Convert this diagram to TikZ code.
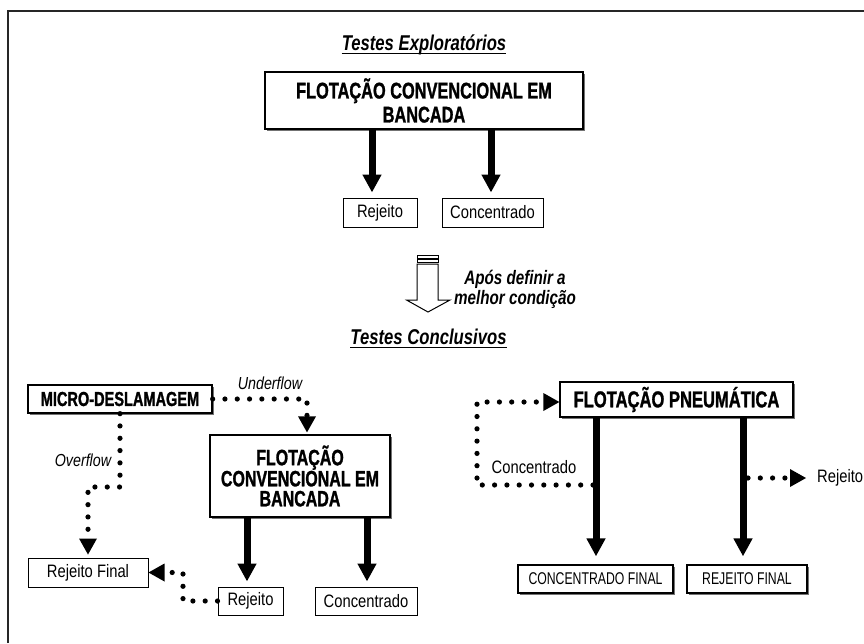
\documentclass[tikz,border=0pt]{standalone}
\usepackage{fontspec}
\setmainfont{Liberation Sans}
\newfontfamily\condbold[FakeStretch=0.72, BoldFeatures={FakeBold=1.2}]{Liberation Sans}
\newfontfamily\condtitle[FakeStretch=0.78, BoldFeatures={FakeBold=0.8}]{Liberation Sans}
\newfontfamily\condreg[FakeStretch=0.82]{Liberation Sans}
\usetikzlibrary{arrows.meta,shadows}

\tikzset{
  procbox/.style={draw, line width=1.3pt, fill=white, inner sep=0pt, align=center,
    general shadow={fill=black!55, shadow xshift=2pt, shadow yshift=-2pt}},
  plainbox/.style={draw, line width=1pt, fill=white, inner sep=0pt, align=center},
  smalllabel/.style={font=\condreg\fontsize{18}{20}\selectfont},
  flowlabel/.style={inner sep=0pt, font=\condreg\itshape\fontsize{17.4}{19}\selectfont},
  titlelabel/.style={inner sep=0pt, anchor=base, font=\condtitle\bfseries\itshape\fontsize{21.4}{23}\selectfont},
  thickflow/.style={line width=7pt, -{Triangle[width=18pt,length=18pt]}},
  dotflow/.style={line width=5.2pt, line cap=round, dash pattern=on 0pt off 12.3pt,
    -{Triangle[width=18pt,length=16pt,line width=0pt]}},
  underbar/.style={line width=1.5pt},
}

\begin{document}
\begin{tikzpicture}[x=1pt, y=-1pt]
  \useasboundingbox (0,0) rectangle (864,643);
  % outer frame (top and left edges)
  \draw[line width=1.8pt, black!85] (8.3,643) -- (8.3,11) -- (864,11);

  % ---------- exploratory tests ----------
  \node[titlelabel] (t1) at (424,50) {Testes Exploratórios};
  \draw[underbar] ([yshift=-3.3pt]t1.base west) -- ([yshift=-3.3pt]t1.base east);

  \node[procbox, minimum width=318pt, minimum height=57pt,
        font=\condbold\bfseries\fontsize{22.7}{24}\selectfont] (topflot) at (424,100.5)
        {FLOTAÇÃO CONVENCIONAL EM\\BANCADA};

  \node[plainbox, minimum width=74pt, minimum height=29pt, smalllabel] (rej1) at (380,212.5) {Rejeito};
  \node[plainbox, minimum width=101pt, minimum height=29pt, smalllabel] (conc1) at (492.5,212.5) {Concentrado};

  \draw[thickflow] ([xshift=-52pt]topflot.south) -- ([xshift=-8pt,yshift=5pt]rej1.north);
  \draw[thickflow] ([xshift=67pt]topflot.south) -- ([xshift=-1.5pt,yshift=5pt]conc1.north);

  % ---------- striped transition arrow ----------
  \draw[line width=1pt, fill=white] (417,255.5) rectangle (438,258);
  \draw[line width=1pt, fill=white] (417,259.5) rectangle (438,262);
  \draw[line width=1pt, fill=white]
    (417,264) -- (438,264) -- (438,300) -- (450,300) -- (428,312)
    -- (406.5,300) -- (417,300) -- cycle;
  \node[inner sep=0pt, align=center,
        font=\condtitle\bfseries\itshape\fontsize{19.5}{20}\selectfont] (cond) at (515,289)
        {Após definir a\\melhor condição};

  % ---------- conclusive tests ----------
  \node[titlelabel] (t2) at (428.5,344) {Testes Conclusivos};
  \draw[underbar] ([yshift=-3.3pt]t2.base west) -- ([yshift=-3.3pt]t2.base east);

  % left circuit
  \node[procbox, minimum width=184pt, minimum height=28pt,
        font=\condbold\bfseries\fontsize{20.2}{21}\selectfont] (micro) at (120,399)
        {MICRO-DESLAMAGEM};
  \node[procbox, minimum width=180pt, minimum height=82pt,
        font=\condbold\bfseries\fontsize{22.2}{20}\selectfont] (flot2) at (300,476)
        {FLOTAÇÃO\\CONVENCIONAL EM\\BANCADA};
  \node[plainbox, minimum width=120pt, minimum height=29pt, smalllabel] (rejfin) at (88,572.5) {Rejeito Final};
  \node[plainbox, minimum width=65pt, minimum height=28pt, smalllabel] (rej2) at (250.5,601) {Rejeito};
  \node[plainbox, minimum width=102pt, minimum height=28pt, smalllabel] (conc2) at (366,601) {Concentrado};

  \draw[dotflow] (micro.east) -- ([xshift=7pt]flot2.north |- micro.east)
    -- ([xshift=7pt,yshift=2pt]flot2.north);
  \node[flowlabel] (under) at (270,383) {Underflow};

  \draw[dotflow] (micro.south) -- (120,487) -- (rejfin.north |- 0,487)
    -- ([yshift=3pt]rejfin.north);
  \node[flowlabel] (over) at (83,460) {Overflow};

  \draw[thickflow] ([xshift=-53pt]flot2.south) -- ([xshift=-3.5pt,yshift=5pt]rej2.north);
  \draw[thickflow] ([xshift=67pt]flot2.south) -- ([xshift=1pt,yshift=5pt]conc2.north);

  \draw[dotflow] (rej2.west) -- (183,601) -- (183,572.5) -- (rejfin.east);

  % right circuit
  \node[procbox, minimum width=233pt, minimum height=35pt,
        font=\condbold\bfseries\fontsize{23}{24}\selectfont] (pneu) at (676.5,399.5)
        {FLOTAÇÃO PNEUMÁTICA};
  \node[procbox, minimum width=155pt, minimum height=28pt,
        font=\condbold\fontsize{17}{18}\selectfont] (concfin) at (595.5,579)
        {CONCENTRADO FINAL};
  \node[procbox, minimum width=120pt, minimum height=28pt,
        font=\condbold\fontsize{17}{18}\selectfont] (rejfinal) at (747,579)
        {REJEITO FINAL};

  \draw[thickflow] ([xshift=-80.5pt]pneu.south) -- ([xshift=0.5pt,yshift=8pt]concfin.north);
  \draw[thickflow] ([xshift=66.5pt]pneu.south) -- ([xshift=-4pt,yshift=8pt]rejfinal.north);

  \coordinate (cfork) at (593,485);
  \draw[dotflow] (cfork) -- (477,485) -- (477,402) -- (pneu.west |- 0,402);
  \node[inner sep=0pt, smalllabel] (cl) at (534,467) {Concentrado};

  \coordinate (rfork) at (748,478);
  \coordinate (rend) at (806,478);
  \draw[dotflow] (rfork) -- (rend);
  \node[inner sep=0pt, anchor=west, smalllabel] (rl) at (817,478) {Rejeito};
\end{tikzpicture}
\end{document}
